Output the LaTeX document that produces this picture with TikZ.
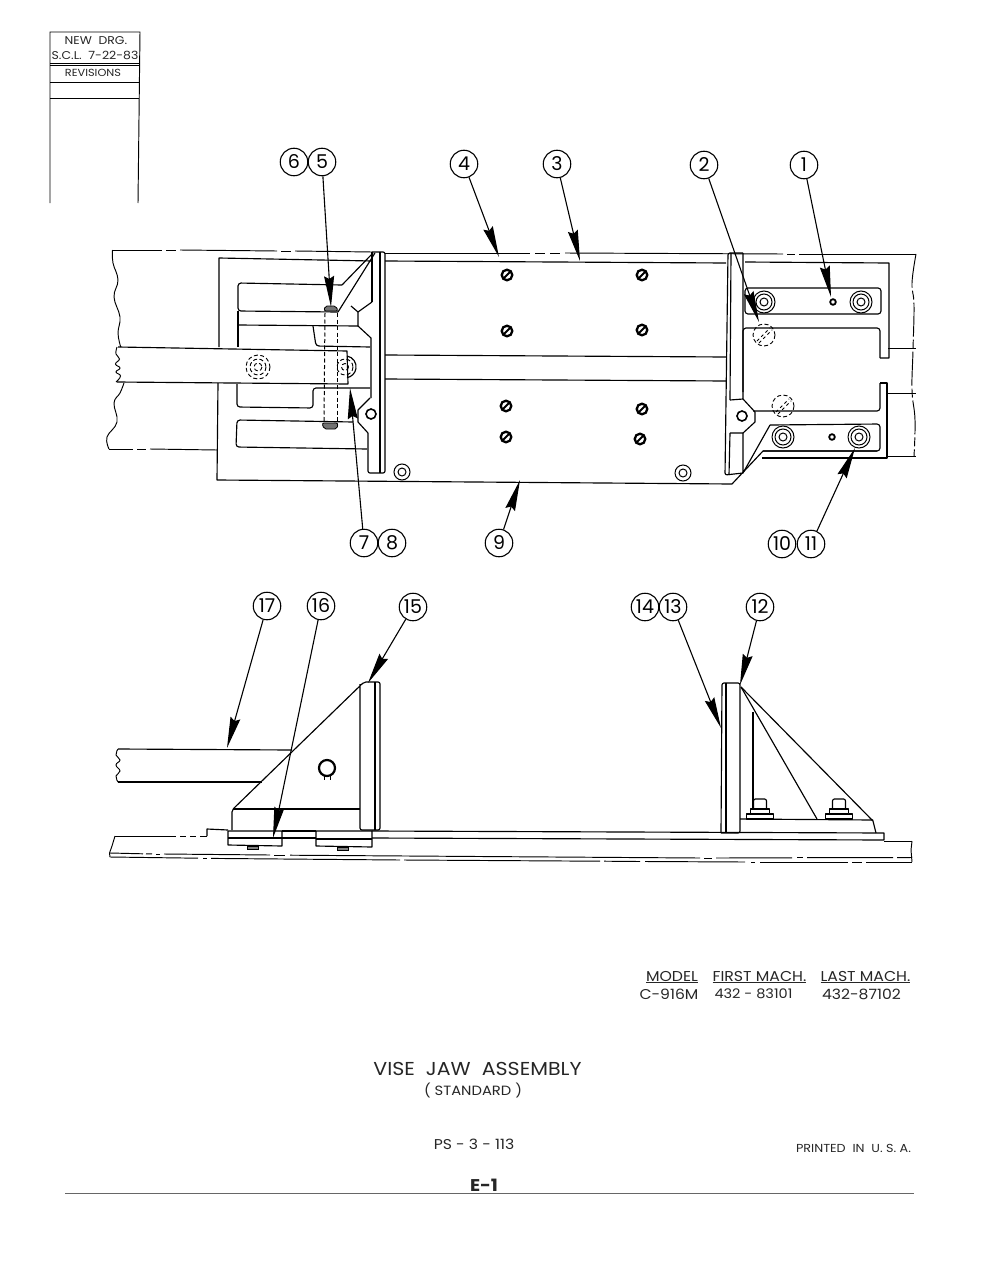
\documentclass[tikz,border=0pt]{standalone}
\usepackage{fontspec}
\setmainfont[FakeStretch=1.1]{Poppins}
\newfontfamily\balloonfont{Poppins}
\usetikzlibrary{arrows.meta}
\tikzstyle{balloon}=[circle, draw, line width=1.1pt
,minimum size=27.5pt
,inner sep=0pt
,font=\balloonfont\fontsize{19}{19}\selectfont
]
\tikzstyle{leader} = [draw,line width=1.1pt,-{Stealth[length=31pt,width=10pt,inset=3pt]}]
\tikzstyle{part} = [draw,line width=1.15pt,line join=round]
\tikzstyle{thin part} = [draw,line width=0.95pt]
\tikzstyle{hidden} = [draw,line width=1pt,dash pattern=on 4pt off 2.5pt]
\tikzstyle{lettering} = [inner sep=0pt,text=black!85]
\begin{document}
\begin{tikzpicture}[x=1pt,y=-1pt]
    \useasboundingbox (0,0) rectangle (995,1287);

    % Revision block in the corner
    \path[thin part] (50,203) -- (50,32) -- (140,32) -- (138,203);
    \foreach \ya in {63,65,82,98}
        \path[thin part] (50,\ya) -- (139,\ya);
    \node[lettering,font=\fontsize{11.3}{11.3}\selectfont] (newdrg) at (96,41) {NEW\ \ DRG.};
    \node[lettering,font=\fontsize{11.3}{11.3}\selectfont] (scl) at (95,55) {S.C.L.\ \ 7-22-83};
    \node[lettering,font=\fontsize{10.3}{10.3}\selectfont] (revisions) at (93,73) {REVISIONS};

    % Top view: table edges, broken lines
    \foreach \xa/\ya/\xb/\yb in {112/250/162/250, 166/250/176/250, 180/250/277/251, 281/251/291/251, 295/251/372/252,
        385/253/530/253, 535/253/545/253, 550/253/560/253, 565/253/783/254, 787/254/795/254, 799/254/916/254,
        109/449/133/449, 137/449/146/449, 150/449/217/450,
        888/348/916/348, 888/393/916/393, 888/456/916/456}
        \path[thin part] (\xa,\ya) -- (\xb,\yb);
    \path[thin part] plot[smooth,tension=0.7] coordinates {(112.5,250) (113,263) (118,280) (114,297) (120,317) (118,333) (120.7,347)};
    \path[thin part] plot[smooth,tension=0.7] coordinates {(124,383) (120,393) (114,403) (117,422) (107,437) (109,449)};
    \path[thin part,dash pattern=on 34pt off 3pt on 9pt off 3pt] plot[smooth,tension=0.7] coordinates {(916,254) (912,283) (914,305) (913,350) (912,390) (915,420) (914,456)};

    % Bar and base plate
    \path[part] (118,347) -- (347,351) -- (348,384) -- (117,382);
    \path[thin part] plot[smooth,tension=0.8] coordinates {(117,347) (116,354) (119.5,359) (115.5,364) (120,368) (116,372) (120.5,376) (116,382)};
    \path[part] (219,347) -- (219,258) -- (372,261);
    \path[part] (218,383) -- (217,480) -- (732,484) -- (763,451) -- (877,451);
    \path[part] (762,458) -- (887,458) -- (887,383) -- (880,383);
    \path[part] (745,262) -- (889,263) -- (889,358) -- (880,358);
    \path[part] (385,261) -- (726,263);
    \path[part] (385,355) -- (726,357);
    \path[part] (385,379) -- (726,381);

    % Left jaw
    \path[part] (373,253) -- (342,285);
    \path[part,rounded corners=3pt] (342,285) -- (238,283) -- (238,311) -- (338,312);
    \path[part] (338,312) -- (375,253);
    \path[part] (351,306) -- (358,312) -- (372,302);
    \path[part] (372,252) -- (372,302);
    \path[part] (358,312) -- (358,326) -- (371,338) -- (371,398);
    \path[part] (238,325) -- (358,326);
    \path[part,rounded corners=3pt] (313,326) -- (316,346) -- (370,347);
    \path[part] (238,311) -- (238,347);
    \path[part,rounded corners=3pt] (370,388) -- (313,388) -- (313,408) -- (237,407) -- (237,384);
    \path[part] (370,398) -- (358,410) -- (358,422) -- (368,433);
    \path[part,rounded corners=3pt] (353,422) -- (237,420) -- (236,447) -- (367,449);
    \path[part,rounded corners=2pt] (368,433) -- (368,473) -- (385,473) -- (385,252) -- (372,252);
    \path[part] (380,252) -- (380,473);
    \draw[line width=1.6pt] (371,414) circle (5);

    % Through bolt and hidden screws
    \path[hidden] (325,313) -- (324,422);
    \path[hidden] (337,313) -- (337,422);
    \path[draw,fill=black!55,line width=0.8pt,rounded corners=2pt] (324,311) -- (325,306) -- (336,306) -- (338,311) -- cycle;
    \path[draw,fill=black!55,line width=0.8pt,rounded corners=2pt] (322,423) -- (338,423) -- (337,429) -- (324,429) -- cycle;
    \foreach \rad in {12,8,4}
        \path[hidden,line width=0.9pt] (258,367) circle (\rad);
    \path[part] (347,356) arc (-80:80:11) ;
    \path[hidden,line width=0.9pt] (345,367) circle (8);
    \path[hidden,line width=0.9pt] (345,367) circle (3.5);

    % Right jaw
    \path[part,rounded corners=2pt] (743,253) -- (728,253) -- (725,475) -- (743,473);
    \path[part] (731,253) -- (730,400);
    \path[part] (730,433) -- (729,475);
    \path[part] (743,253) -- (743,399) -- (730,400);
    \path[part] (743,399) -- (755,412) -- (755,422) -- (743,433) -- (730,433);
    \path[part] (743,433) -- (743,473) -- (770,425);
    \draw[line width=1.6pt] (742,416) circle (5);
    \path[part,rounded corners=3pt] (770,425) -- (880,424) -- (880,451) -- (763,451);
    \path[part,rounded corners=3pt] (745,288) -- (881,288) -- (881,314) -- (745,314) -- cycle;
    \path[part,rounded corners=3pt] (743,392) -- (743,328) -- (880,328) -- (880,358);
    \path[part,rounded corners=3pt] (880,383) -- (880,411) -- (753,411);

    % Socket screws and plugs
    \foreach \pos in {(764,302),(861,302),(783,437),(859,437),(402,472),(683,473)}{
        \draw[line width=1pt] \pos circle (4);
        \draw[line width=1pt] \pos circle (8);
    }
    \foreach \pos in {(764,302),(861,302),(783,437),(859,437)}
        \draw[line width=1pt] \pos circle (11);
    \foreach \pos in {(833,302),(832,437)}
        \draw[line width=1.8pt] \pos circle (2.8);
    \foreach \xc/\yc in {764/335,783/406}{
        \path[hidden,line width=0.9pt] (\xc,\yc) circle (11);
        \draw[line width=0.9pt,dashed] (\xc-7,\yc+6) -- (\xc+6,\yc-7);
        \draw[line width=0.9pt,dashed] (\xc-5,\yc+8) -- (\xc+8,\yc-5);
    }

    % Slotted heads on the plate
    \foreach \xc/\yc in {507/275,642/275,507/331,642/330,506/406,642/409,506/437,640/439}{
        \draw[line width=2.3pt] (\xc,\yc) circle (5.3);
        \draw[line width=2pt] (\xc-3.7,\yc+3.7) -- (\xc+3.7,\yc-3.7);
    }

    % Side view: bar and left bracket
    \path[part] (118,749) -- (292,750);
    \path[part] (118,782) -- (262,782);
    \path[thin part] plot[smooth,tension=0.8] coordinates {(118,749) (116,755) (120,760) (116,765) (120,771) (116,776) (118,782)};
    \path[part,rounded corners=2pt] (232,830) -- (232,810) -- (364,682) -- (380,682) -- (380,830) -- (360,830) -- (360,684);
    \path[part] (375,682) -- (375,830);
    \path[part] (233,809) -- (360,809);
    \draw[line width=2.2pt] (327,768) circle (8);
    \path[thin part] (324,776) -- (324,780);
    \path[thin part] (330,776) -- (330,780);

    % Side view: right bracket
    \path[part,rounded corners=2pt] (721,833) -- (722,683) -- (740,683) -- (740,833) -- (721,833);
    \path[part] (726,683) -- (726,833);
    \path[part] (741,687) -- (817,819);
    \path[part] (741,687) -- (873,821) -- (876,833);
    \path[part] (753,712) -- (753,818);
    \path[part] (740,819) -- (873,820);
    \foreach \xc in {760,839}{
        \path[part,fill=white] (\xc-13.5,819) -- (\xc-13.5,814) -- (\xc+13.5,814) -- (\xc+13.5,819) -- cycle;
        \path[part,fill=white] (\xc-9.5,813.5) -- (\xc-9.5,809) -- (\xc+9.5,809) -- (\xc+9.5,813.5) -- cycle;
        \path[part,rounded corners=2pt] (\xc-6.5,809) -- (\xc-6.5,799) -- (\xc+6.5,799) -- (\xc+6.5,809);
    }

    % Side view: table and clamps
    \path[part] (207,836) -- (207,829) -- (228,830);
    \path[part] (282,831) -- (316,831);
    \path[part] (372,831) -- (884,833) -- (884,840) -- (372,838);
    \path[part] (282,838) -- (316,838);
    \path[part] (228,831) -- (282,831) -- (282,846) -- (228,845) -- cycle;
    \path[part] (228,838) -- (282,838);
    \path[part] (316,831) -- (372,831) -- (372,847) -- (316,846) -- cycle;
    \path[part] (316,839) -- (372,839);
    \path[draw,fill=black!50,line width=0.6pt] (247,846) rectangle (258,849);
    \path[draw,fill=black!50,line width=0.6pt] (337,847) rectangle (348,850);
    \foreach \xa/\ya/\xb/\yb in {115/836/176/836, 180/836/186/836, 190/836/196/836, 200/836/207/836,
        884/841/912/841,
        110/853/143/853.8, 146/853.8/152/853.9, 156/854/160/854, 164/854/270/855, 274/855/285/855, 290/855.2/700/858, 704/858/712/858, 716/858/792/857.8, 797/857.8/803/857.8, 807/857.7/893/857.6, 897/857.6/912/857.5,
        110/857/198/858.2, 203/858.3/207/858.3, 211/858.4/400/860, 404/860/600/861.2, 604/861.2/640/861.5, 645/861.5/745/862, 751/862/755/862, 760/862/848/862, 852/862/862/862, 866/862/912/862}
        \path[thin part] (\xa,\ya) -- (\xb,\yb);
    \path[thin part] (115,836) -- (112,846) -- (109.5,853) -- (110,857);
    \path[thin part] (912,841) -- (911,850) -- (912,862);

    % Balloons come first, the tips are free ends
    \foreach \pos/\name/\num in {{(294,162)/b6/6}, {(322,162)/b5/5}, {(464,164)/b4/4}, {(557,164)/b3/3}, {(704,165)/b2/2}, {(804,165)/b1/1},
        {(364,543)/b7/7}, {(392,543)/b8/8}, {(499,543)/b9/9}, {(782,544)/b10/10}, {(811,544)/b11/11},
        {(267,606)/b17/17}, {(321,606)/b16/16}, {(413,607)/b15/15}, {(645,607)/b14/14}, {(673,607)/b13/13}, {(760,607)/b12/12}}
        \node[balloon] (\name) at \pos {\num};
    \foreach \xc/\yc/\name in {331/307/t5, 499/257/t4, 580/261/t3, 759/322/t2, 831/297/t1,
        350/388/t7, 520/480/t9, 855/448/t11,
        227/748/t17, 273/838/t16, 368/683/t15, 721/728/t13, 740/685/t12}
        \coordinate (\name) at (\xc,\yc);

    % Connect balloons with their parts
    \foreach \source/ \dest in {b5/t5, b4/t4, b3/t3, b2/t2, b1/t1, b7/t7, b9/t9, b11/t11, b17/t17, b16/t16, b15/t15, b13/t13, b12/t12}
        \path[leader] (\source) -- (\dest) ;

    % Title lettering
    \node[lettering,font=\fontsize{14.3}{14.3}\selectfont] (modelhead) at (672,977) {\underline{MODEL}};
    \node[lettering,font=\fontsize{14.3}{14.3}\selectfont] (firsthead) at (759.5,977) {\underline{FIRST MACH.}};
    \node[lettering,font=\fontsize{14.3}{14.3}\selectfont] (lasthead) at (865.5,977) {\underline{LAST MACH.}};
    \node[lettering,font=\fontsize{14.2}{14.2}\selectfont] (model) at (669,994) {C-916M};
    \node[lettering,font=\fontsize{13.2}{13.2}\selectfont] (first) at (753.5,994) {432 - 83101};
    \node[lettering,font=\fontsize{14.2}{14.2}\selectfont] (last) at (861.5,994) {432-87102};
    \node[lettering,font=\fontsize{18.7}{18.7}\selectfont] (title) at (477.5,1069) {VISE\ \ JAW\ \ ASSEMBLY};
    \node[lettering,font=\fontsize{13.4}{13.4}\selectfont] (subtitle) at (473,1090) {( STANDARD )};
    \node[lettering,font=\fontsize{14.2}{14.2}\selectfont] (psnum) at (474,1144) {PS - 3 - 113};
    \node[lettering,font=\fontsize{11.6}{11.6}\selectfont] (printed) at (853.5,1148) {PRINTED\ \ IN\ \ U. S. A.};
    \node[lettering,font=\fontsize{17}{17}\selectfont\bfseries] (sheet) at (484,1185) {E-1};
    \path[draw,line width=0.8pt,black!60] (65,1193) -- (914,1193);
\end{tikzpicture}
\end{document}
